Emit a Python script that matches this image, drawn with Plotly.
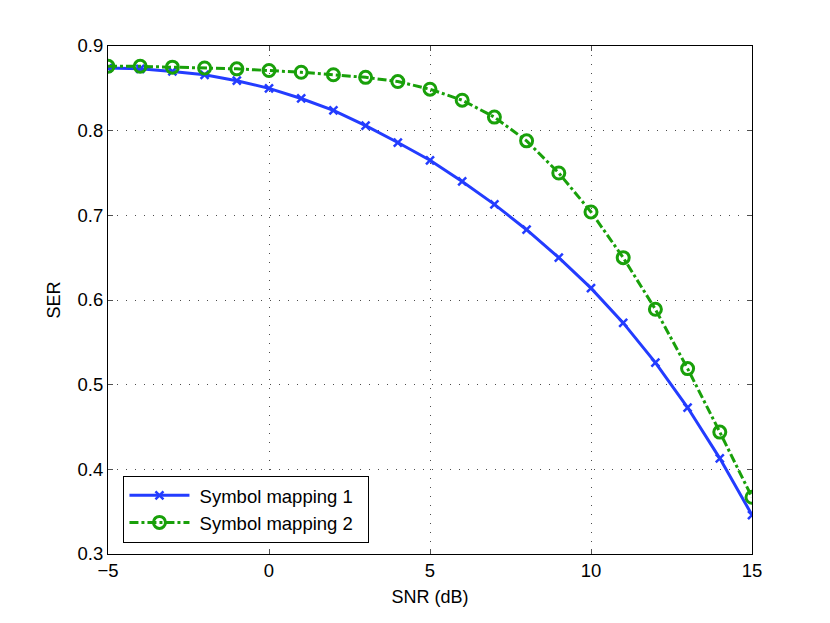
import plotly.graph_objects as go

# SNR values (dB)
snr = list(range(-5, 16))

# SER curves
ser_map1 = [0.874, 0.873, 0.870, 0.866, 0.859, 0.850, 0.838, 0.824, 0.806, 0.786,
            0.765, 0.740, 0.713, 0.683, 0.650, 0.614, 0.573, 0.526, 0.473, 0.413, 0.346]
ser_map2 = [0.876, 0.876, 0.875, 0.874, 0.873, 0.871, 0.869, 0.866, 0.863, 0.858,
            0.849, 0.836, 0.816, 0.788, 0.750, 0.704, 0.650, 0.589, 0.519, 0.444, 0.367]

blue = "rgb(35,60,255)"
green = "rgb(25,160,10)"

fig = go.Figure()
fig.add_trace(go.Scatter(
    x=snr, y=ser_map1, name="\u00a0Symbol mapping 1\u00a0\u00a0", mode="lines+markers",
    line=dict(color=blue, width=3),
    marker=dict(symbol="x-thin", size=8, line=dict(color=blue, width=2.5)),
))
fig.add_trace(go.Scatter(
    x=snr, y=ser_map2, name="\u00a0Symbol mapping 2\u00a0\u00a0", mode="lines+markers",
    line=dict(color=green, width=3, dash="dashdot"),
    marker=dict(symbol="circle-open", size=12, line=dict(color=green, width=3)),
))

axis_style = dict(
    showline=True, linecolor="black", linewidth=1, mirror="ticks",
    ticks="inside", ticklen=5, tickcolor="rgb(80,80,80)",
    showgrid=True, gridcolor="rgba(0,0,0,0.7)", griddash="1px,8px", gridwidth=1,
    zeroline=False, tickfont=dict(size=18.5, color="black"),
)

fig.update_xaxes(range=[-5, 15], dtick=5,
                 title=dict(text="SNR (dB)", font=dict(size=18), standoff=10),
                 **axis_style)
fig.update_yaxes(range=[0.3, 0.9], dtick=0.1, tickformat=".1f",
                 title=dict(text="SER", font=dict(size=18), standoff=12), **axis_style)

# page body adds 8px padding, so margins are offset by 8
fig.update_layout(
    width=830, height=623,
    margin=dict(l=100, r=86, t=38, b=77),
    plot_bgcolor="white", paper_bgcolor="white",
    font=dict(family="Liberation Sans, Arial, sans-serif", color="black", size=18),
    legend=dict(x=0.024, y=0.022, xanchor="left", yanchor="bottom",
                bordercolor="black", borderwidth=1, bgcolor="white",
                font=dict(size=18.5), tracegroupgap=0, itemwidth=60),
    showlegend=True,
)

fig.write_html("out.html")
